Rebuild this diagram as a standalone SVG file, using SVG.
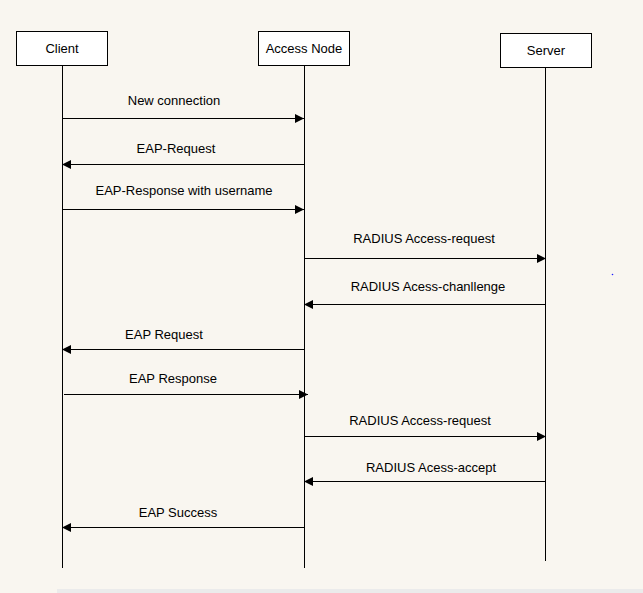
<svg xmlns="http://www.w3.org/2000/svg" width="643" height="593" viewBox="0 0 643 593">
<defs>
<style>
text{font-family:"Liberation Sans",Arial,sans-serif;font-size:13px;fill:#000;text-anchor:middle}
.box{fill:#fff;stroke:#000;stroke-width:1}
.life{stroke:#000;stroke-width:1}
.msg{stroke:#000;stroke-width:1;fill:none;marker-end:url(#ah)}
</style>
<marker id="ah" viewBox="0 0 10 10" refX="10" refY="5" markerWidth="10" markerHeight="9" markerUnits="userSpaceOnUse" orient="auto"><path d="M0,0L10,5L0,10z" fill="#000"/></marker>
</defs>
<rect width="643" height="593" fill="#f9f6f0"/>
<rect x="57" y="589" width="586" height="4" fill="#ebebeb"/>
<g id="client">
<rect class="box" x="16.5" y="31.5" width="91" height="34"/>
<text x="62" y="53">Client</text>
<line class="life" x1="62.5" y1="65" x2="62.5" y2="568"/>
</g>
<g id="access-node">
<rect class="box" x="258.5" y="31.5" width="91" height="34"/>
<text x="304" y="53">Access Node</text>
<line class="life" x1="304.5" y1="65" x2="304.5" y2="568"/>
</g>
<g id="server">
<rect class="box" x="500.5" y="33.5" width="91" height="34"/>
<text x="546" y="55">Server</text>
<line class="life" x1="545.5" y1="67" x2="545.5" y2="561"/>
</g>
<circle cx="612.5" cy="274.5" r="0.8" fill="#2020ff"/>
<g id="connectors">
<line class="msg" x1="62" y1="118.5" x2="304" y2="118.5"/>
<text x="174" y="105">New connection</text>
<line class="msg" x1="304" y1="164.5" x2="62" y2="164.5"/>
<text x="176" y="153">EAP-Request</text>
<line class="msg" x1="62" y1="209.5" x2="304" y2="209.5"/>
<text x="184" y="195">EAP-Response with username</text>
<line class="msg" x1="304" y1="258.5" x2="546" y2="258.5"/>
<text x="424" y="243">RADIUS Access-request</text>
<line class="msg" x1="546" y1="304.5" x2="304" y2="304.5"/>
<text x="428" y="291">RADIUS Acess-chanllenge</text>
<line class="msg" x1="304" y1="349.5" x2="62" y2="349.5"/>
<text x="164" y="339">EAP Request</text>
<line class="msg" x1="64" y1="394.5" x2="308" y2="394.5"/>
<text x="173" y="383">EAP Response</text>
<line class="msg" x1="304" y1="436.5" x2="546" y2="436.5"/>
<text x="420" y="425">RADIUS Access-request</text>
<line class="msg" x1="546" y1="481.5" x2="304" y2="481.5"/>
<text x="431" y="472">RADIUS Acess-accept</text>
<line class="msg" x1="304" y1="527.5" x2="62" y2="527.5"/>
<text x="178" y="517">EAP Success</text>
</g>
</svg>
